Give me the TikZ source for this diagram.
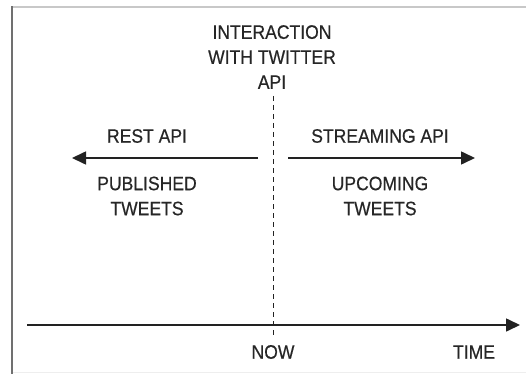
\documentclass[tikz,border=0pt]{standalone}
\usepackage{fontspec}
\setmainfont{Liberation Sans}[FakeStretch=0.9,FakeBold=0.4]
\usetikzlibrary{arrows.meta}
\definecolor{ink}{HTML}{222222}
\definecolor{txt}{HTML}{262626}
\begin{document}
\begin{tikzpicture}[x=1pt,y=-1pt,
  lbl/.style={text=txt,font=\fontsize{19.5}{25}\selectfont,align=center,inner sep=0pt},
  arr/.style={draw=ink,line width=1.6pt,-{Triangle[length=14pt,width=13pt]}},
  dsh/.style={draw=ink,line width=1pt,dash pattern=on 5pt off 4pt}]
\useasboundingbox[fill=white] (0,0) rectangle (526,374);
% frame
\draw[draw={rgb,255:red,200;green,200;blue,200},line width=1.2pt] (12,7) -- (526,7);
\draw[draw={rgb,255:red,112;green,112;blue,112},line width=2.2pt] (12,6.4) -- (12,374);
\draw[draw={rgb,255:red,238;green,238;blue,238},line width=1pt] (13,372.5) -- (526,372.5);
% texts
\node[lbl] (title) at (272,57) {INTERACTION\\WITH TWITTER\\API};
\node[lbl] (rest) at (147,136) {REST API};
\node[lbl] (stream) at (380,136) {STREAMING API};
\node[lbl] (pub) at (147,196) {PUBLISHED\\TWEETS};
\node[lbl] (up) at (380,196) {UPCOMING\\TWEETS};
\node[lbl] (now) at (273,352) {NOW};
\node[lbl] (time) at (474,352) {TIME};
% coordinates
\coordinate (dtop) at (273,96);
\coordinate (dbot) at (273,336);
\coordinate (lstart) at (258,158);
\coordinate (lend) at (72,158);
\coordinate (rstart) at (288,158);
\coordinate (rend) at (475,158);
\coordinate (tstart) at (27,325);
\coordinate (tend) at (520,325);
% lines
\draw[dsh] (dtop) -- (dbot);
\draw[arr] (lstart) -- (lend);
\draw[arr] (rstart) -- (rend);
\draw[arr] (tstart) -- (tend);
\end{tikzpicture}
\end{document}
